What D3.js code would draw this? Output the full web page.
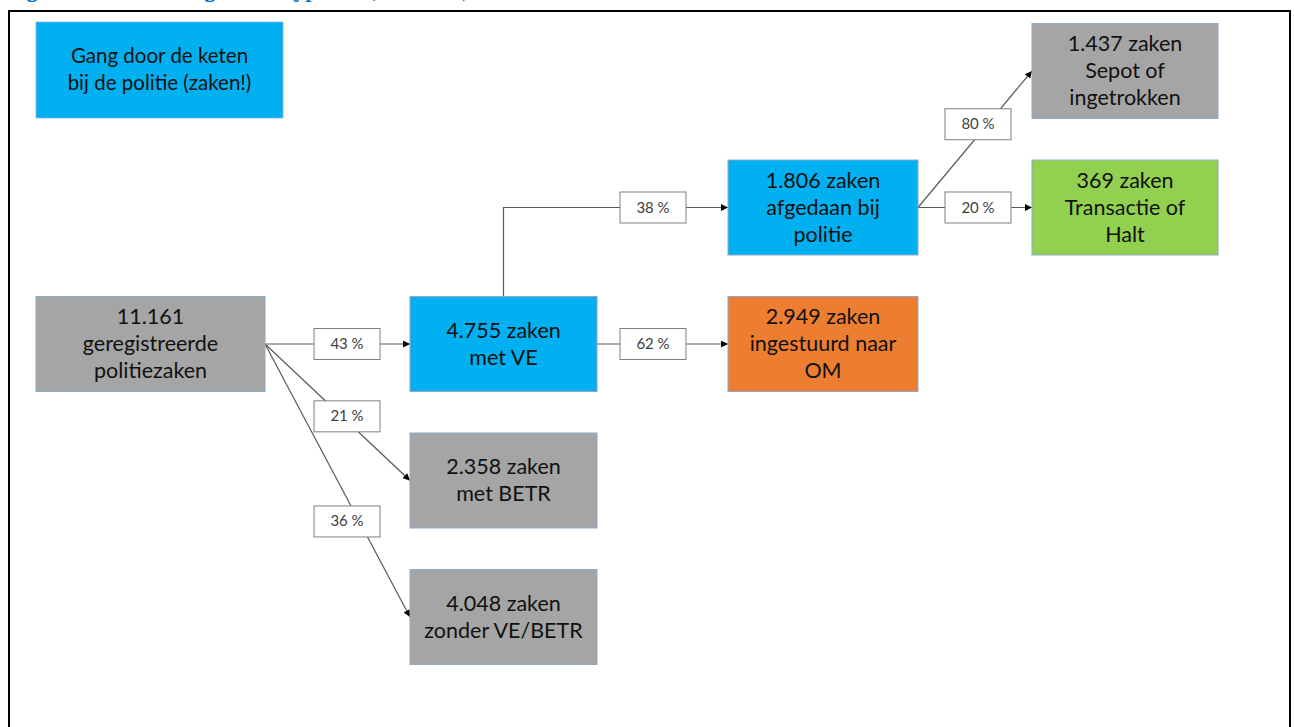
<!DOCTYPE html>
<html>
<head>
<meta charset="utf-8">
<script src="https://cdn.jsdelivr.net/npm/d3@7"></script>
<style>
  body { margin: 0; background: #fff; }
  svg { display: block; }
</style>
</head>
<body>
<div id="chart"></div>
<script>
// gegevens van het stroomschema
const titleText = 'Figuur 4.1 Afhandeling zaken bij politie (2012-2013)'
const legendLines = ['Gang door de keten', 'bij de politie (zaken!)']

const nodeIds = ['reg', 've', 'betr', 'zonder', 'politie', 'om', 'sepot', 'halt']
const nodeCounts = ['11.161', '4.755', '2.358', '4.048', '1.806', '2.949', '1.437', '369']
const nodeUnits = ['', ' zaken', ' zaken', ' zaken', ' zaken', ' zaken', ' zaken', ' zaken']
const nodeTexts = [
    ['geregistreerde', 'politiezaken'],
    ['met VE'],
    ['met BETR'],
    ['zonder VE/BETR'],
    ['afgedaan bij', 'politie'],
    ['ingestuurd naar', 'OM'],
    ['Sepot of', 'ingetrokken'],
    ['Transactie of', 'Halt'],
]
const nodeKinds = ['grijs', 'blauw', 'grijs', 'grijs', 'blauw', 'oranje', 'grijs', 'groen']

const linkSources = ['reg', 'reg', 'reg', 've', 've', 'politie', 'politie']
const linkTargets = ['ve', 'betr', 'zonder', 'politie', 'om', 'sepot', 'halt']
const linkPcts = [43, 21, 36, 38, 62, 80, 20]

// opmaak: kolom en rij per blok, plaats van de percentage-labels
const nodeColumn = [0, 1, 1, 1, 2, 2, 3, 3]
const nodeRow = [2, 2, 3, 4, 1, 2, 0, 1]
const labelT = [0.5, 0.53, 0.65, 0.5, 0.5, 0.61, 0.5]

const config = {
    width: 1294,
    height: 727,
    boxHeight: 95,
    font: 'Lato, "Open Sans", sans-serif',
    colors: { grijs: '#a5a5a5', blauw: '#00b0f0', oranje: '#ed7d31', groen: '#92d050' },
}

const svg = d3.select('#chart')
    .append('svg')
    .attr('width', config.width)
    .attr('height', config.height)

// schalen voor kolommen en rijen
const xLeft = d3.scaleOrdinal().domain([0, 1, 2, 3]).range([36, 410, 728, 1032])
const colWidth = d3.scaleOrdinal().domain([0, 1, 2, 3]).range([229, 187, 190, 186])
const yMid = d3.scaleLinear().domain([0, 4]).range([71, 617])
const labelX = d3.scaleOrdinal().domain([0, 1, 2]).range([347, 653, 978])

const nodes = nodeIds.map((id, i) => {
    const col = nodeColumn[i]
    const x0 = xLeft(col)
    const w = colWidth(col)
    const cy = yMid(nodeRow[i])
    return {
        id, col, x0, x1: x0 + w, cy,
        y0: cy - config.boxHeight / 2,
        lines: [nodeCounts[i] + nodeUnits[i]].concat(nodeTexts[i]),
        kind: nodeKinds[i],
    }
})
const byId = new Map(nodes.map(n => [n.id, n]))

// titel, grotendeels buiten beeld (zoals in het origineel)
svg.append('text')
    .attr('x', 10)
    .attr('y', -2)
    .attr('fill', '#0070c0')
    .attr('font-family', 'Cambria, "DejaVu Serif", serif')
    .attr('font-weight', 'bold')
    .attr('font-size', 20)
    .text(titleText)

// kader
svg.append('rect')
    .attr('x', 9)
    .attr('y', 11)
    .attr('width', 1281)
    .attr('height', 760)
    .attr('fill', 'none')
    .attr('stroke', '#000')
    .attr('stroke-width', 2)

// pijlpunt
svg.append('defs').append('marker')
    .attr('id', 'pijl')
    .attr('viewBox', '0 0 10 10')
    .attr('refX', 10)
    .attr('refY', 5)
    .attr('markerWidth', 8)
    .attr('markerHeight', 7)
    .attr('markerUnits', 'userSpaceOnUse')
    .attr('orient', 'auto')
    .append('path')
    .attr('d', 'M0,0 L10,5 L0,10 Z')
    .attr('fill', '#000')

// legenda-blok
svg.append('rect')
    .attr('x', 36).attr('y', 22)
    .attr('width', 247).attr('height', 96)
    .attr('fill', config.colors.blauw)
    .attr('stroke', '#8fb4dc')
    .attr('stroke-width', 0.8)
svg.append('text')
    .attr('x', 36 + 247 / 2)
    .attr('font-family', config.font)
    .attr('font-size', 20.5)
    .attr('fill', '#111')
    .attr('text-anchor', 'middle')
    .selectAll('tspan')
    .data(legendLines)
    .join('tspan')
    .attr('x', 36 + 247 / 2)
    .attr('y', (d, i) => 63 + i * 27)
    .text(d => d)

// verbindingen
const links = linkSources.map((s, i) => {
    const a = byId.get(s)
    const b = byId.get(linkTargets[i])
    let pts, seg
    if (s === 've' && b.cy < a.cy) {
        // haakse lijn vanaf de bovenkant
        const sx = (a.x0 + a.x1) / 2
        pts = [[sx, a.y0], [sx, b.cy], [b.x0, b.cy]]
        seg = [[sx, b.cy], [b.x0, b.cy]]
    } else {
        pts = [[a.x1, a.cy], [b.x0, b.cy]]
        seg = pts
    }
    const t = labelT[i]
    const ly = seg[0][1] + (seg[1][1] - seg[0][1]) * t
    return { pts, pct: linkPcts[i], lx: labelX(a.col), ly }
})

svg.append('g')
    .selectAll('path')
    .data(links)
    .join('path')
    .attr('d', d => d3.line()(d.pts))
    .attr('fill', 'none')
    .attr('stroke', '#595959')
    .attr('stroke-width', 1.2)
    .attr('marker-end', 'url(#pijl)')

// blokken
const boxes = svg.append('g')
    .selectAll('g')
    .data(nodes)
    .join('g')

boxes.append('rect')
    .attr('x', d => d.x0)
    .attr('y', d => d.y0)
    .attr('width', d => d.x1 - d.x0)
    .attr('height', config.boxHeight)
    .attr('fill', d => config.colors[d.kind])
    .attr('stroke', '#8fa9c8')
    .attr('stroke-width', 1)

boxes.append('text')
    .attr('font-family', config.font)
    .attr('font-size', 21.5)
    .attr('fill', '#111')
    .attr('text-anchor', 'middle')
    .each(function (d) {
        const n = d.lines.length
        d3.select(this).selectAll('tspan')
            .data(d.lines)
            .join('tspan')
            .attr('x', (d.x0 + d.x1) / 2)
            .attr('y', (l, i) => d.cy + 7 + (i - (n - 1) / 2) * 27)
            .text(l => l)
    })

// percentage-labels
const labels = svg.append('g')
    .selectAll('g')
    .data(links)
    .join('g')
    .attr('transform', d => `translate(${d.lx},${d.ly})`)

labels.append('rect')
    .attr('x', -33)
    .attr('y', -15.5)
    .attr('width', 66)
    .attr('height', 31)
    .attr('fill', '#fff')
    .attr('stroke', '#7f7f7f')
    .attr('stroke-width', 1)

labels.append('text')
    .attr('y', 5)
    .attr('text-anchor', 'middle')
    .attr('font-family', config.font)
    .attr('font-size', 15)
    .attr('fill', '#404040')
    .text(d => d.pct + ' %')
</script>
</body>
</html>
